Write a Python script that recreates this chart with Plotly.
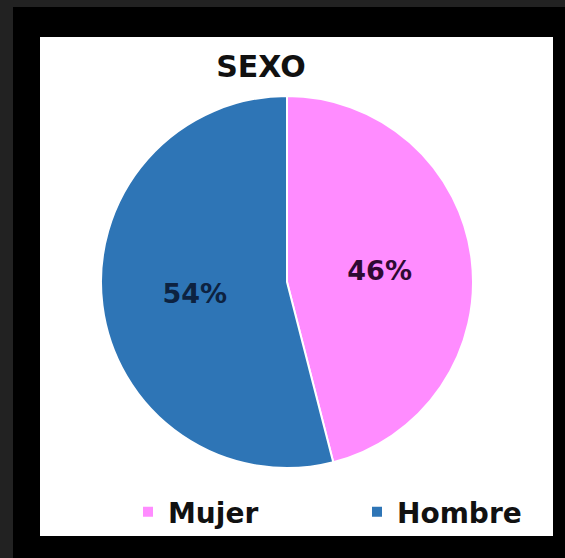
import plotly.graph_objects as go

labels = ["Mujer", "Hombre"]
values = [46, 54]
colors = ["#FF8CFF", "#2E75B6"]
text_colors = ["#2E0A33", "#0D2240"]
title_text = "SEXO"

W, H = 565, 558
ML, MR, MT, MB = 40, 12, 37, 22
PW, PH = W - ML - MR, H - MT - MB

def px_x(px):
    return (px - ML) / PW

def px_y(py):
    return (H - MB - py) / PH

cx, cy, r = 287, 282, 186

fig = go.Figure(go.Pie(
    labels=labels,
    values=values,
    sort=False,
    direction="clockwise",
    rotation=0,
    marker=dict(colors=colors, line=dict(color="white", width=2)),
    texttemplate="%{percent:.0%}",
    textposition="inside",
    insidetextorientation="horizontal",
    textfont=dict(family="DejaVu Sans", size=27, color=text_colors, weight="bold"),
    hoverinfo="label+percent",
    domain=dict(x=[px_x(cx - r), px_x(cx + r)], y=[px_y(cy + r), px_y(cy - r)]),
))

fig.update_layout(
    width=W, height=H,
    margin=dict(l=ML, r=MR, t=MT, b=MB, autoexpand=False),
    paper_bgcolor="#222222",
    font=dict(family="DejaVu Sans", color="#111111"),
    title=dict(text=title_text, x=px_x(261), xref="paper", xanchor="center",
               y=1 - 66 / H, yref="container", yanchor="middle",
               font=dict(family="DejaVu Sans", size=30, color="#111111", weight="bold")),
    showlegend=True,
    legend=dict(orientation="h", x=px_x(129 + 228), xanchor="center", y=px_y(512), yanchor="middle",
                font=dict(family="DejaVu Sans", size=28, color="#111111", weight="bold"),
                entrywidth=184, entrywidthmode="pixels", bgcolor="rgba(0,0,0,0)",
                traceorder="normal"),
    shapes=[
        dict(type="rect", xref="paper", yref="paper", layer="below",
             x0=px_x(13), x1=px_x(565), y0=px_y(558), y1=px_y(7),
             fillcolor="black", line=dict(width=0)),
        dict(type="rect", xref="paper", yref="paper", layer="below",
             x0=0, x1=1, y0=0, y1=1, fillcolor="white", line=dict(width=0)),
    ],
)

fig.write_html("out.html", config={"displayModeBar": False},
               post_script="document.body.style.margin='0';document.body.style.background='#222222';")
